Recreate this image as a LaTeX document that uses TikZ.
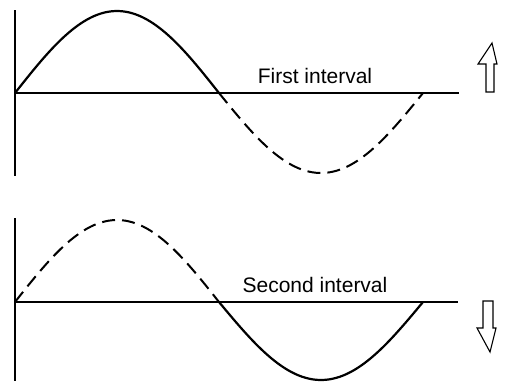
\documentclass[tikz,border=0pt]{standalone}
\usepackage{fontspec}
\setmainfont{Liberation Sans}
\begin{document}
\begin{tikzpicture}[x=1pt,y=-1pt,
  axis/.style={line width=1.4pt},
  wave/.style={line width=2.2pt},
  dwave/.style={line width=2pt, dash pattern=on 13pt off 7pt},
  hollow/.style={line width=1.1pt, line join=miter},
  lbl/.style={font=\fontsize{21}{22}\selectfont, inner sep=0pt}]
\useasboundingbox (0,0) rectangle (506,381);
% top panel
\coordinate (t0) at (15,93);
\coordinate (t1) at (459,93);
\coordinate (ta) at (15,10);
\coordinate (tb) at (15,176);
\draw[axis] (ta) -- (tb);
\draw[axis] (t0) -- (t1);
\draw[wave] plot[domain=15:219,samples=60,smooth] (\x,{93-82*sin((\x-15)*0.882353)});
\draw[dwave] plot[domain=219:423,samples=60,smooth] (\x,{93-80*sin((\x-15)*0.882353)});
\node[lbl] (first) at (315,76) {First interval};
\draw[hollow] (492,43) -- (497,64) -- (494,64) -- (494,92) -- (486,92) -- (486,64) -- (478,64) -- cycle;
% bottom panel
\coordinate (b0) at (15,302);
\coordinate (b1) at (458,302);
\coordinate (ba) at (15,218);
\coordinate (bb) at (15,381);
\draw[axis] (ba) -- (bb);
\draw[axis] (b0) -- (b1);
\draw[dwave] plot[domain=15:219,samples=60,smooth] (\x,{302-82*sin((\x-15)*0.882353)});
\draw[wave] plot[domain=219:423,samples=60,smooth] (\x,{302-78*sin((\x-15)*0.882353)});
\node[lbl] (second) at (315,285) {Second interval};
\draw[hollow] (483,301) -- (493,301) -- (493,328) -- (496,328) -- (490,352) -- (477,328) -- (483,328) -- cycle;
\end{tikzpicture}
\end{document}
